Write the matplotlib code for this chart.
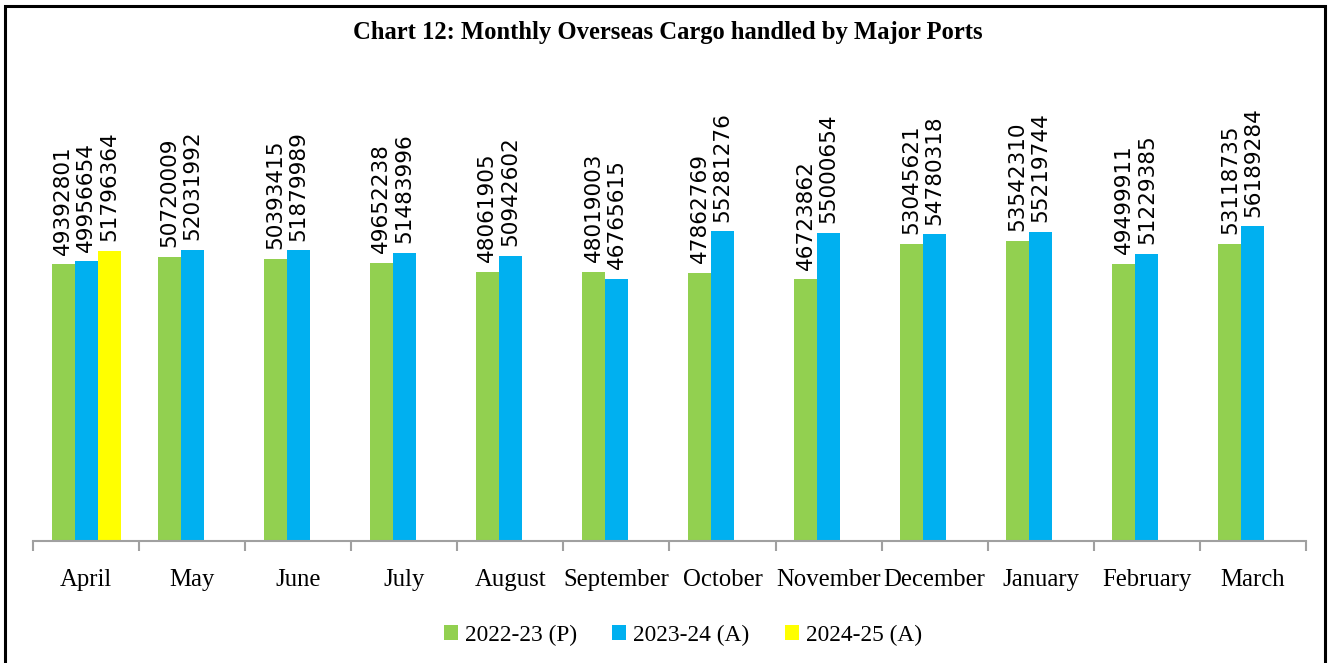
import numpy as np
import matplotlib
matplotlib.use('Agg')
import matplotlib.pyplot as plt
from matplotlib.patches import Rectangle

months = ['April', 'May', 'June', 'July', 'August', 'September', 'October',
          'November', 'December', 'January', 'February', 'March']
cargo_2223 = [49392801, 50720009, 50393415, 49652238, 48061905, 48019003,
              47862769, 46723862, 53045621, 53542310, 49499911, 53118735]
cargo_2324 = [49956654, 52031992, 51879989, 51483996, 50942602, 46765615,
              55281276, 55000654, 54780318, 55219744, 51229385, 56189284]
cargo_2425 = [51796364]
series_names = ['2022-23 (P)', '2023-24 (A)', '2024-25 (A)']
colors = ['#92D050', '#00B0F0', '#FFFF00']

W, H = 1335, 663
fig = plt.figure(figsize=(W / 100, H / 100), dpi=100)
ax = fig.add_axes([33 / W, 1 - 541 / H, (1306 - 33) / W, 392 / H])

x = np.arange(len(months))
bw = 0.217
all_series = [cargo_2223, cargo_2324, cargo_2425]
for i, (vals, col, name) in enumerate(zip(all_series, colors, series_names)):
    xs = x[:len(vals)] + (i - 1) * bw
    ax.bar(xs, vals, width=bw, color=col, label=name, zorder=2)
    for xi, v in zip(xs, vals):
        ax.annotate(f'{v}', (xi, v), xytext=(0, 7), textcoords='offset points',
                    rotation=90, ha='center', va='bottom', fontsize=15.5,
                    family='DejaVu Sans', annotation_clip=False)

ax.set_xlim(-0.5, len(months) - 0.5)
ax.set_ylim(0, 70e6)
ax.set_yticks([])
for s in ['top', 'right', 'left']:
    ax.spines[s].set_visible(False)
ax.spines['bottom'].set_color('#A0A0A0')
ax.spines['bottom'].set_linewidth(1.5)

ax.set_xticks(x)
ax.set_xticklabels(months, family='Liberation Serif', fontsize=17.8)
ax.tick_params(axis='x', length=0, pad=20)
ax.set_xticks(np.arange(-0.5, len(months)), minor=True)
ax.tick_params(axis='x', which='minor', length=7, width=1.5, color='#A0A0A0')

fig.text(0.5, 1 - 33 / H, 'Chart 12: Monthly Overseas Cargo handled by Major Ports',
         ha='center', va='center', family='Liberation Serif', fontweight='bold',
         fontsize=17.7)

fig.legend(loc='center', bbox_to_anchor=(683 / W, 1 - 635 / H), ncol=3,
           frameon=False, prop={'family': 'Liberation Serif', 'size': 16.8},
           handlelength=0.6, handleheight=0.6, handletextpad=0.3,
           columnspacing=1.5)

fig.patches.append(Rectangle((5 / W, -0.02), 1320 / W, 1.02 - 6 / H,
                             transform=fig.transFigure, fill=False,
                             edgecolor='black', linewidth=2.2))

fig.savefig('out.png', dpi=100)
